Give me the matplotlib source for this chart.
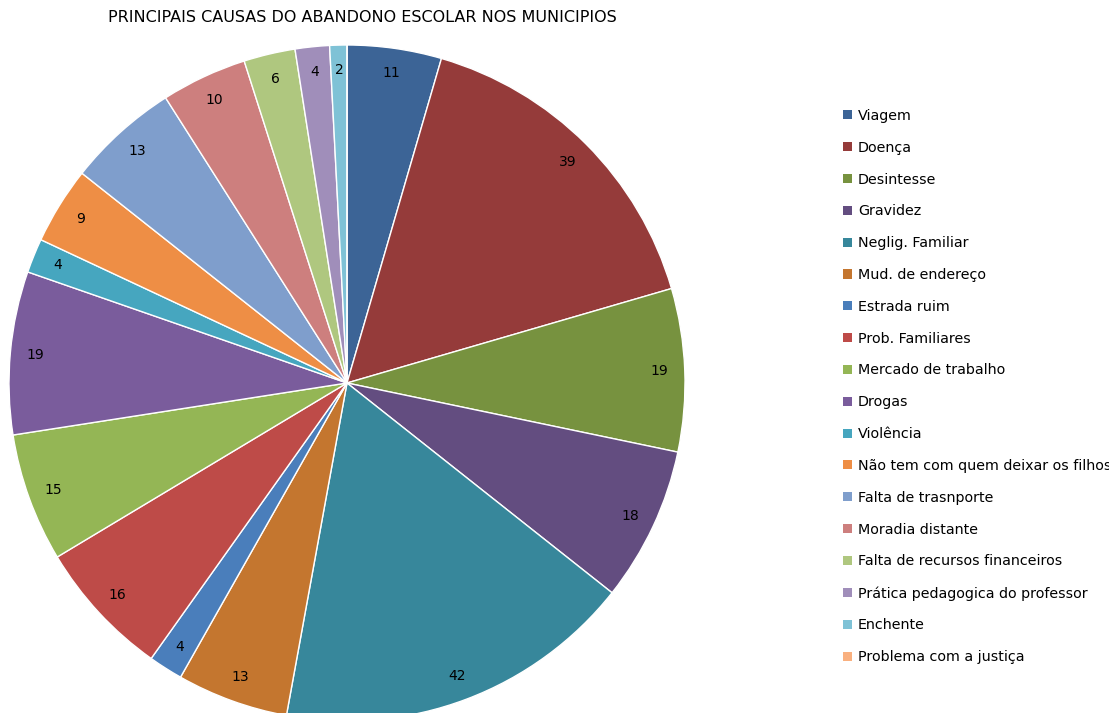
import matplotlib
matplotlib.use("Agg")
import matplotlib.pyplot as plt
from matplotlib.patches import Patch

# causas e quantidades
causas = ['Viagem', 'Doença', 'Desintesse', 'Gravidez', 'Neglig. Familiar',
          'Mud. de endereço', 'Estrada ruim', 'Prob. Familiares',
          'Mercado de trabalho', 'Drogas', 'Violência',
          'Não tem com quem deixar os filhos', 'Falta de trasnporte',
          'Moradia distante', 'Falta de recursos financeiros',
          'Prática pedagogica do professor', 'Enchente',
          'Problema com a justiça']
valores = [11, 39, 19, 18, 42, 13, 4, 16, 15, 19, 4, 9, 13, 10, 6, 4, 2, 0]
cores = ['#3C6496', '#953B3A', '#77923F', '#634D80', '#37879B', '#C4762F',
         '#4A7EBB', '#BE4B48', '#94B655', '#7A5C9C', '#46A6BF', '#EE8E45',
         '#7F9ECC', '#CD7F7E', '#AFC77F', '#A08EBA', '#7FC2D6', '#F9B07F']
titulo = 'PRINCIPAIS CAUSAS DO ABANDONO ESCOLAR NOS MUNICIPIOS'

total = sum(valores)

def rotulo(p):
    v = int(round(p * total / 100.0))
    return str(v) if v > 0 else ''

fig = plt.figure(figsize=(11.09, 7.13), dpi=100)
fig.patch.set_facecolor('white')

# eixo da pizza: centro (347,383) px, raio 338 px
ax = fig.add_axes([9 / 1109, (330 - 338) / 713, 676 / 1109, 676 / 713])
wedges, textos, nums = ax.pie(valores, colors=cores, startangle=90, counterclock=False,
                              autopct=rotulo, pctdistance=0.925, radius=1.0,
                              wedgeprops=dict(edgecolor='white', linewidth=1.0),
                              textprops=dict(fontsize=10, color='#000000'))
ax.set_xlim(-1, 1)
ax.set_ylim(-1, 1)
ax.set_aspect('equal')
ax.axis('off')

fig.text(362 / 1109, 1 - 17 / 713, titulo, ha='center', va='center',
         fontsize=11.5, color='#000000')

# legenda a direita (o ultimo caractere de um item sai da figura, como no original)
handles = [Patch(facecolor=c, edgecolor='none') for c in cores]
fig.legend(handles, causas, loc='upper left', bbox_to_anchor=(843 / 1109, 1 - 109 / 713),
           frameon=False, fontsize=10.3, handlelength=0.6, handleheight=0.6,
           handletextpad=0.45, labelspacing=1.245, borderpad=0, borderaxespad=0)

fig.savefig('out.png', dpi=100)
